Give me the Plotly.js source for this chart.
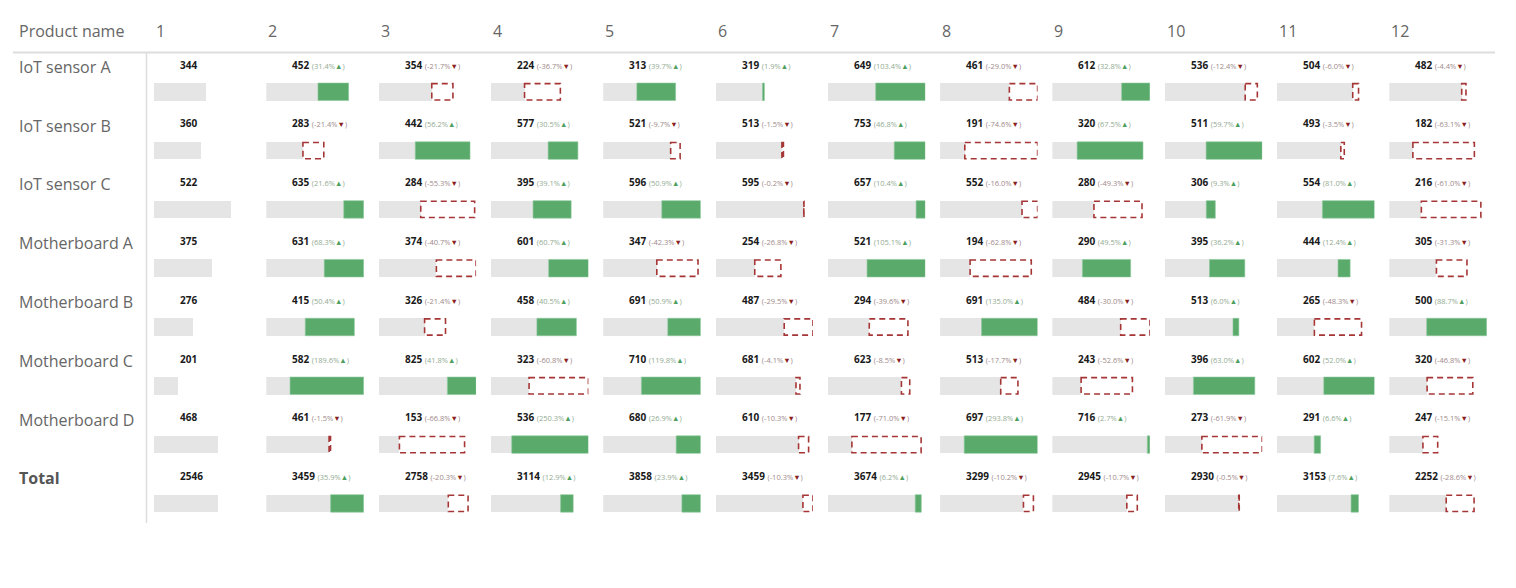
<!DOCTYPE html>
<html>
<head>
<meta charset="utf-8">
<script src="https://cdn.plot.ly/plotly-3.0.1.min.js"></script>
<style>
  html, body { margin: 0; padding: 0; background: #ffffff; }
  #chart { width: 1516px; height: 588px; }
</style>
</head>
<body>
<div id="chart"></div>
<script>
// ---------- DATA ----------
const months = ["1", "2", "3", "4", "5", "6", "7", "8", "9", "10", "11", "12"];
const products = ["IoT sensor A", "IoT sensor B", "IoT sensor C", "Motherboard A", "Motherboard B", "Motherboard C", "Motherboard D", "Total"];

const iotSensorA    = [344, 452, 354, 224, 313, 319, 649, 461, 612, 536, 504, 482];
const iotSensorB    = [360, 283, 442, 577, 521, 513, 753, 191, 320, 511, 493, 182];
const iotSensorC    = [522, 635, 284, 395, 596, 595, 657, 552, 280, 306, 554, 216];
const motherboardA  = [375, 631, 374, 601, 347, 254, 521, 194, 290, 395, 444, 305];
const motherboardB  = [276, 415, 326, 458, 691, 487, 294, 691, 484, 513, 265, 500];
const motherboardC  = [201, 582, 825, 323, 710, 681, 623, 513, 243, 396, 602, 320];
const motherboardD  = [468, 461, 153, 536, 680, 610, 177, 697, 716, 273, 291, 247];
const totals        = [2546, 3459, 2758, 3114, 3858, 3459, 3674, 3299, 2945, 2930, 3153, 2252];

const rows = [iotSensorA, iotSensorB, iotSensorC, motherboardA, motherboardB, motherboardC, motherboardD, totals];

// ---------- STYLE / LAYOUT ----------
const FIG_W = 1516, FIG_H = 588;
const ROW0 = 91.8, ROW_STEP = 58.8;       // pixel centre of first bar row, row spacing
const COL0 = 154, COL_STEP = 112.3, BAR_W = 97.5;
const BAR_H = 17.5 / ROW_STEP;
const yp = px => (px - ROW0) / ROW_STEP;  // pixel -> y units

const GREY = "#e5e5e5", GREEN = "#5aaa6b", RED = "#a63636";
const FONT = "Open Sans, Noto Sans, Arial, sans-serif";

const traces = [];
const shapes = [];
const annotations = [];
const layout = {
  width: FIG_W, height: FIG_H,
  margin: {l: 0, r: 0, t: 0, b: 0, pad: 0},
  paper_bgcolor: "#ffffff", plot_bgcolor: "#ffffff",
  showlegend: false, barmode: "overlay", bargap: 0,
  font: {family: FONT},
  yaxis: {range: [yp(FIG_H), yp(0)], visible: false, fixedrange: true, domain: [0, 1]},
  shapes: shapes, annotations: annotations
};

const rowMax = rows.map(r => Math.max(...r));
const yIdx = products.map((_, i) => i);

months.forEach((m, c) => {
  const ax = c === 0 ? "x" : "x" + (c + 1);
  const axKey = c === 0 ? "xaxis" : "xaxis" + (c + 1);
  const left = COL0 + c * COL_STEP;
  layout[axKey] = {
    domain: [left / FIG_W, (left + BAR_W) / FIG_W],
    range: [0, 1], visible: false, fixedrange: true, anchor: "y"
  };

  const bases = [], ups = [];
  rows.forEach((vals, r) => {
    const cur = vals[c];
    const mx = rowMax[r];
    let label = "<b>" + cur + "</b>";
    if (c === 0) {
      bases.push(cur / mx);
      ups.push(null);
    } else {
      const prev = vals[c - 1];
      const pct = (cur - prev) / prev;
      const base = Math.min(cur, prev) / mx;
      const delta = Math.min(Math.abs(pct), 1 - base);
      bases.push(base);
      const pctTxt = (pct * 100).toFixed(1) + "%";
      if (pct >= 0) {
        ups.push(delta);
        label += " <span style='font-size:7.5px;color:#93ab93'>(" + pctTxt + "</span>" +
                 "<span style='font-size:7.5px;color:#4f9f60'>▲</span>" +
                 "<span style='font-size:7.5px;color:#93ab93'>)</span>";
      } else {
        ups.push(null);
        shapes.push({
          type: "rect", xref: ax, yref: "y",
          x0: base, x1: base + delta, y0: r - BAR_H / 2 + 0.01, y1: r + BAR_H / 2 - 0.01,
          line: {color: RED, width: 1.6, dash: "6px,4px"}, fillcolor: "rgba(0,0,0,0)", layer: "above"
        });
        label += " <span style='font-size:7.5px;color:#a08a8a'>(" + pctTxt + "</span>" +
                 "<span style='font-size:7.5px;color:#8b1f1f'>▼</span>" +
                 "<span style='font-size:7.5px;color:#a08a8a'>)</span>";
      }
    }
    annotations.push({
      xref: ax, yref: "y", x: 24 / BAR_W, y: r - 27.3 / ROW_STEP,
      xanchor: "left", yanchor: "middle", showarrow: false,
      text: label, font: {family: FONT, size: 10, color: "#1a1a1a"}
    });
  });

  traces.push({
    type: "bar", orientation: "h", xaxis: ax, yaxis: "y",
    y: yIdx, x: bases, width: BAR_H,
    marker: {color: GREY, line: {width: 0}}, hoverinfo: "skip"
  });
  traces.push({
    type: "bar", orientation: "h", xaxis: ax, yaxis: "y",
    y: yIdx, x: ups, base: bases, width: BAR_H,
    marker: {color: GREEN, line: {width: 0.6, color: "#8cc79a"}}, hoverinfo: "skip"
  });

  // column header
  annotations.push({
    xref: ax, yref: "y", x: 0, y: yp(30.5),
    xanchor: "left", yanchor: "middle", showarrow: false,
    text: m, font: {family: FONT, size: 16, color: "#666666"}
  });
});

// header + row labels
annotations.push({
  xref: "paper", yref: "y", x: 17 / FIG_W, y: yp(30.5),
  xanchor: "left", yanchor: "middle", showarrow: false,
  text: "Product name", font: {family: FONT, size: 16, color: "#666666"}
});
products.forEach((p, i) => {
  const isTotal = p === "Total";
  annotations.push({
    xref: "paper", yref: "y", x: 17 / FIG_W, y: i - 25 / ROW_STEP,
    xanchor: "left", yanchor: "middle", showarrow: false,
    text: isTotal ? "<b>" + p + "</b>" : p,
    font: {family: FONT, size: 16, color: isTotal ? "#555555" : "#666666"}
  });
});

// grid lines
shapes.push({
  type: "line", xref: "paper", yref: "y", x0: 13 / FIG_W, x1: 1495 / FIG_W,
  y0: yp(52.5), y1: yp(52.5), line: {color: "#dddddd", width: 2}, layer: "below"
});
shapes.push({
  type: "line", xref: "paper", yref: "y", x0: 146.5 / FIG_W, x1: 146.5 / FIG_W,
  y0: yp(53), y1: yp(523), line: {color: "#dddddd", width: 1.5}, layer: "below"
});

Plotly.newPlot("chart", traces, layout, {displayModeBar: false, staticPlot: true});
</script>
</body>
</html>
